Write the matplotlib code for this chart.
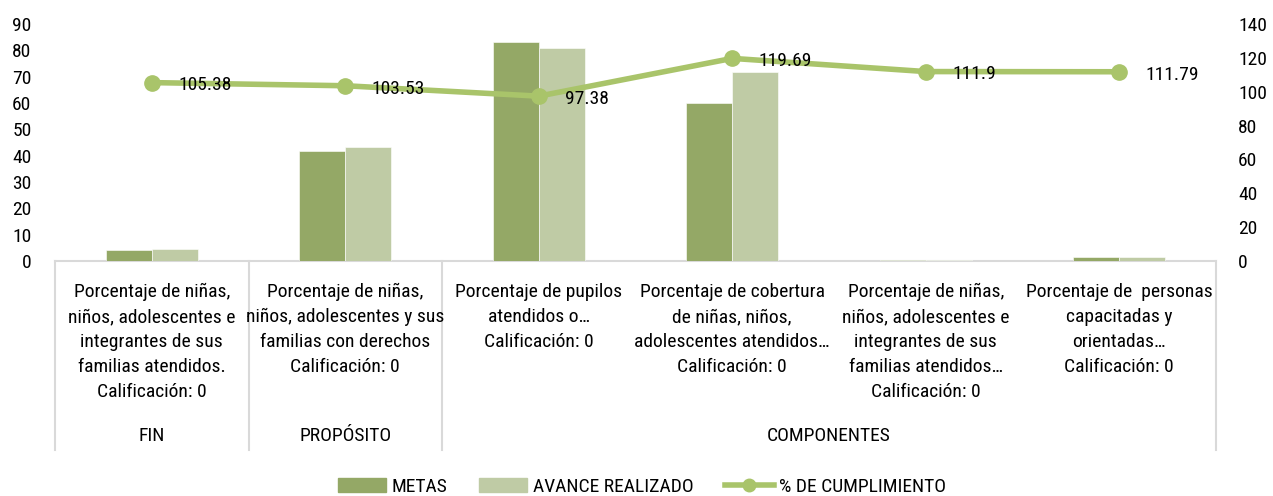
import matplotlib
matplotlib.use("Agg")
import matplotlib.pyplot as plt
import matplotlib.transforms as mtransforms
from matplotlib import font_manager
from matplotlib.lines import Line2D
from matplotlib.patches import Patch
import numpy as np

# narrow sans close to the original condensed face
installed = {f.name for f in font_manager.fontManager.ttflist}
for fam in ["Roboto Condensed", "Archivo Narrow", "Barlow Semi Condensed",
            "Asap Condensed", "Liberation Sans Narrow"]:
    if fam in installed:
        break
else:
    fam = "DejaVu Sans"
plt.rcParams["font.family"] = [fam, "DejaVu Sans"]

# data
categories = [
    "Porcentaje de niñas,\nniños, adolescentes e\nintegrantes de sus\nfamilias atendidos.\nCalificación: 0",
    "Porcentaje de niñas,\nniños, adolescentes y sus\nfamilias con derechos\nCalificación: 0",
    "Porcentaje de pupilos\natendidos o…\nCalificación: 0",
    "Porcentaje de cobertura\nde niñas, niños,\nadolescentes atendidos…\nCalificación: 0",
    "Porcentaje de niñas,\nniños, adolescentes e\nintegrantes de sus\nfamilias atendidos…\nCalificación: 0",
    "Porcentaje de  personas\ncapacitadas y\norientadas…\nCalificación: 0",
]
groups = ["FIN", "PROPÓSITO", "COMPONENTES"]
group_spans = [(0, 0), (1, 1), (2, 5)]
metas = [4.2, 41.9, 83.0, 59.9, 0.5, 1.4]
avance = [4.7, 43.4, 80.8, 71.9, 0.4, 1.6]
cumplimiento = [105.38, 103.53, 97.38, 119.69, 111.9, 111.79]
cumplimiento_labels = ["105.38", "103.53", "97.38", "119.69", "111.9", "111.79"]

C_METAS = "#94A866"
C_AVANCE = "#BFCBA5"
C_LINE = "#A9C46A"
GRID = "#D9D9D9"
FS = 14

W, H = 1273, 496
fig = plt.figure(figsize=(W / 100, H / 100), dpi=100)
x0, x1, y0, y1 = 55, 1216, 261, 24
ax = fig.add_axes([x0 / W, 1 - y0 / H, (x1 - x0) / W, (y0 - y1) / H])
ax2 = ax.twinx()

x = np.arange(len(categories))
bw = 0.238
ax.bar(x - bw / 2, metas, bw, color=C_METAS, edgecolor="white", linewidth=0.4, zorder=3)
ax.bar(x + bw / 2, avance, bw, color=C_AVANCE, edgecolor="white", linewidth=0.4, zorder=3)
ax.set_xlim(-0.5, len(categories) - 0.5)
ax.set_ylim(0, 90)
ax.set_yticks(range(0, 91, 10))
ax.set_xticks([])

ax2.plot(x, cumplimiento, color=C_LINE, lw=4, marker="o", ms=11, zorder=3)
ax2.set_ylim(0, 140)
ax2.set_yticks(range(0, 141, 20))
for xi, v, lab in zip(x, cumplimiento, cumplimiento_labels):
    ax2.annotate(lab, (xi, v), xytext=(19, -2), textcoords="offset points",
                 va="center", ha="left", fontsize=FS, color="black")

for a in (ax, ax2):
    for s in a.spines.values():
        s.set_visible(False)
    a.tick_params(length=0, labelsize=FS)
ax.tick_params(axis="y", pad=17)
ax2.tick_params(axis="y", pad=16)
ax.spines["bottom"].set_visible(True)
ax.spines["bottom"].set_color(GRID)
ax.spines["bottom"].set_linewidth(1.5)

# category labels (multi-level axis)
tr = mtransforms.blended_transform_factory(ax.transData, fig.transFigure)
for i, lab in enumerate(categories):
    for j, line in enumerate(lab.split("\n")):
        fig.text(i, 1 - (292 + 25 * j) / H, line, transform=tr,
                 ha="center", va="center", fontsize=FS)
for g, (a, b) in zip(groups, group_spans):
    fig.text((a + b) / 2, 1 - 436 / H, g, transform=tr,
             ha="center", va="center", fontsize=FS)

for xb in [-0.5, 0.5, 1.5, len(categories) - 0.5]:
    fig.add_artist(Line2D([xb, xb], [1 - y0 / H, 1 - 450 / H], transform=tr,
                          color=GRID, lw=1.5))

handles = [
    Patch(color=C_METAS, label="METAS"),
    Patch(color=C_AVANCE, label="AVANCE REALIZADO"),
    Line2D([], [], color=C_LINE, lw=4, marker="o", ms=9, label="% DE CUMPLIMIENTO"),
]
fig.legend(handles=handles, loc="center", bbox_to_anchor=(642 / W, 1 - 487 / H),
           ncol=3, frameon=False, fontsize=FS, handlelength=2.5, handleheight=0.75,
           handletextpad=0.3, columnspacing=1.6)

fig.savefig("out.png", dpi=100)
